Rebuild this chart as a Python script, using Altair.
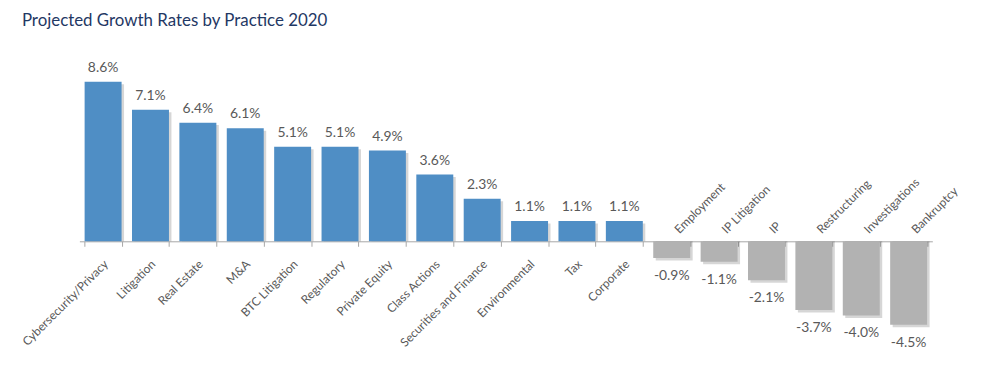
import altair as alt
import pandas as pd

categories = ["Cybersecurity/Privacy", "Litigation", "Real Estate", "M&A", "BTC Litigation",
              "Regulatory", "Private Equity", "Class Actions", "Securities and Finance",
              "Environmental", "Tax", "Corporate", "Employment", "IP Litigation", "IP",
              "Restructuring", "Investigations", "Bankruptcy"]
values = [8.6, 7.1, 6.4, 6.1, 5.1, 5.1, 4.9, 3.6, 2.3, 1.1, 1.1, 1.1,
          -0.9, -1.1, -2.1, -3.7, -4.0, -4.5]

df = pd.DataFrame({"cat": categories, "val": values})
df["label"] = [f"{v:.1f}%" for v in values]
df["sign"] = ["pos" if v >= 0 else "neg" for v in values]

FONT = "Lato"
TXT = "#595959"

x = alt.X("cat:N", sort=None, title=None,
          scale=alt.Scale(paddingInner=0.22, paddingOuter=0.11),
          axis=alt.Axis(labels=False, orient="bottom", offset=-84.2, domainColor="#a6a6a6",
                        tickColor="#a6a6a6", tickSize=5, tickBand="extent", grid=False,
                        domainWidth=1))
y = alt.Y("val:Q", title=None, scale=alt.Scale(domain=[-4.5, 8.6], nice=False, zero=True),
          axis=None)

base = alt.Chart(df)

shadow = base.mark_bar(color="#000000", opacity=0.16, xOffset=2.5, yOffset=2.5).encode(
    x=x, y=y, y2=alt.datum(0))
bars = base.mark_bar().encode(
    x=x, y=y, y2=alt.datum(0),
    color=alt.Color("sign:N", scale=alt.Scale(domain=["pos", "neg"], range=["#4F8EC5", "#B2B2B2"]),
                    legend=None))

val_pos = base.transform_filter("datum.val >= 0").mark_text(
    baseline="bottom", dy=-7, font=FONT, fontSize=14, color=TXT).encode(
    x=x, y=y, text="label:N")
val_neg = base.transform_filter("datum.val < 0").mark_text(
    baseline="top", dy=11, font=FONT, fontSize=14, color=TXT).encode(
    x=x, y=y, text="label:N")

cat_pos = base.transform_filter("datum.val >= 0").mark_text(
    angle=315, align="right", baseline="middle", yOffset=21, xOffset=3,
    font=FONT, fontSize=12, color=TXT).encode(
    x=x, y=alt.datum(0), text="cat:N")
cat_neg = base.transform_filter("datum.val < 0").mark_text(
    angle=315, align="left", baseline="middle", yOffset=-10, xOffset=5,
    font=FONT, fontSize=12, color=TXT).encode(
    x=x, y=alt.datum(0), text="cat:N")

chart = alt.layer(shadow, bars, val_pos, val_neg, cat_pos, cat_neg).properties(
    width=860, height=245,
    background="white",
    autosize=alt.AutoSizeParams(type="none"),
    padding={"left": 72, "top": 73, "right": 41, "bottom": 30},
    title=alt.Title("Projected Growth Rates by Practice 2020", anchor="start", frame="group",
                    dx=-58, offset=31, font=FONT, fontSize=17, fontWeight="normal",
                    color="#1F3864"),
).configure_view(stroke="transparent", strokeWidth=0)

chart.save("out.html", embed_options={"renderer": "svg", "actions": False})
